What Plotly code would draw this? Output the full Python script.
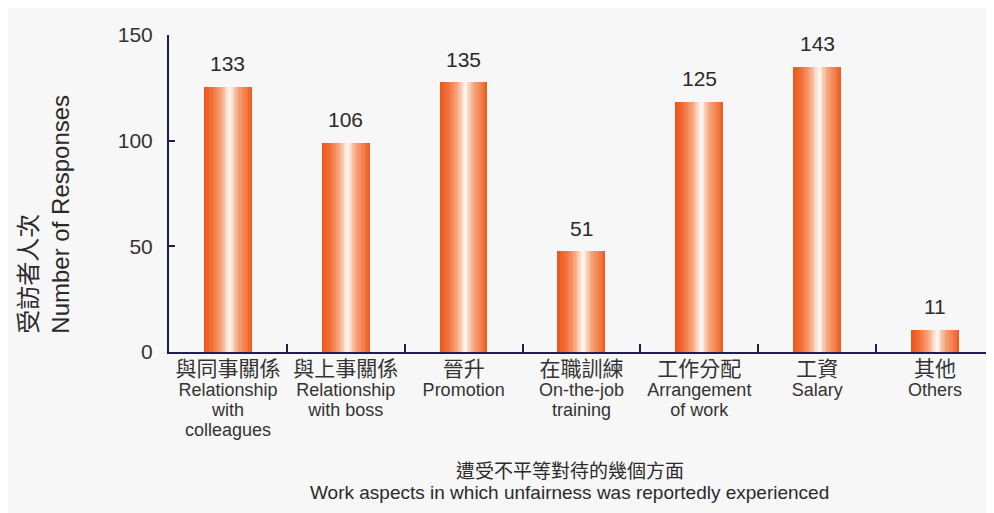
import plotly.graph_objects as go

# ---- data ----
categories_zh = ["與同事關係", "與上事關係", "晉升", "在職訓練", "工作分配", "工資", "其他"]
categories_en = [["Relationship", "with", "colleagues"], ["Relationship", "with boss"], ["Promotion"],
                 ["On-the-job", "training"], ["Arrangement", "of work"], ["Salary"], ["Others"]]
response_counts = [133, 106, 135, 51, 125, 143, 11]          # printed value labels
bar_heights = [125.4, 98.9, 127.6, 47.7, 118.5, 135.0, 10.6]  # drawn bar heights (as in the picture)
y_ticks = [0, 50, 100, 150]

y_title_zh = "受訪者人次"
y_title_en = "Number of Responses"
x_title_zh = "遭受不平等對待的幾個方面"
x_title_en = "Work aspects in which unfairness was reportedly experienced"

# ---- style ----
FONT = "Liberation Sans, Arial, Noto Sans CJK TC, sans-serif"
NAVY = "#1f1f4f"
BG = "#f7f7f7"

def hex2rgb(h):
    h = h.lstrip("#")
    return tuple(int(h[i:i + 2], 16) for i in (0, 2, 4))

stops = [(0.0, "#ee5418"), (0.18, "#f2703a"), (0.38, "#f8aa84"), (0.50, "#fde6da"),
         (0.56, "#fffbf8"), (0.62, "#fbd2bc"), (0.74, "#f6a077"), (0.9, "#f27b46"), (1.0, "#ed5a1e")]

def grad(t):
    for (t0, c0), (t1, c1) in zip(stops[:-1], stops[1:]):
        if t0 <= t <= t1:
            f = (t - t0) / (t1 - t0)
            a, b = hex2rgb(c0), hex2rgb(c1)
            return "rgb(%d,%d,%d)" % tuple(round(a[i] + (b[i] - a[i]) * f) for i in range(3))
    return stops[-1][1]

tick_labels = []
for zh, en in zip(categories_zh, categories_en):
    lines = ["<span style='font-size:21px'>%s</span>" % zh] + ["<span style='font-size:18px'>%s</span>" % e for e in en]
    tick_labels.append("<br>".join(lines))

fig = go.Figure()
K = 36
BW = 0.4
for k in range(K):
    t = (k + 0.5) / K
    w = BW / K * (1.0 if k == K - 1 else 1.25)
    fig.add_bar(x=tick_labels, y=bar_heights, width=w, offset=-BW / 2 + k * BW / K,
                marker=dict(color=grad(t), line=dict(width=0)),
                hoverinfo="skip", showlegend=False)

for xl, h, v in zip(tick_labels, bar_heights, response_counts):
    fig.add_annotation(x=xl, y=h, text=str(v), showarrow=False, yanchor="middle", yshift=23,
                       font=dict(size=21, color="#2a2a2a", family=FONT))

fig.add_annotation(xref="paper", yref="paper", x=-0.1515, y=0.05, xanchor="center", yanchor="bottom",
                   text=y_title_zh + "<br>" + y_title_en, textangle=-90, align="left", showarrow=False,
                   font=dict(size=24, color="#2a2a2a", family=FONT))
fig.add_annotation(xref="paper", yref="paper", x=0.486, y=(352 - 472) / 317, xanchor="center", yanchor="middle",
                   text=x_title_zh, showarrow=False, font=dict(size=19, color="#2a2a2a", family=FONT))
fig.add_annotation(xref="paper", yref="paper", x=0.486, y=(352 - 493) / 317, xanchor="center", yanchor="middle",
                   text=x_title_en, showarrow=False, font=dict(size=19, color="#2a2a2a", family=FONT))

# page body has an 8px margin, so the figure is sized/margined to land the plot area where the reference has it
fig.update_layout(width=986, height=505, margin=dict(l=161, r=0, t=27, b=161),
                  paper_bgcolor=BG, plot_bgcolor=BG, barmode="overlay", bargap=0,
                  font=dict(family=FONT, color="#333333"))
fig.update_xaxes(type="category", tickson="boundaries", ticks="inside", ticklen=8, tickwidth=2,
                 tickcolor=NAVY, showline=True, linecolor=NAVY, linewidth=2, showgrid=False,
                 zeroline=False, range=[-0.5, 6.5], ticklabelstandoff=3,
                 tickfont=dict(size=15.5, color="#333333", family=FONT))
fig.update_yaxes(range=[0, 150], tickvals=y_ticks, ticks="inside", ticklen=6, tickwidth=2,
                 tickcolor=NAVY, showline=True, linecolor=NAVY, linewidth=2, showgrid=False,
                 zeroline=False, tickfont=dict(size=21, color="#333333", family=FONT),
                 ticklabelstandoff=10)

fig.write_html("out.html")
